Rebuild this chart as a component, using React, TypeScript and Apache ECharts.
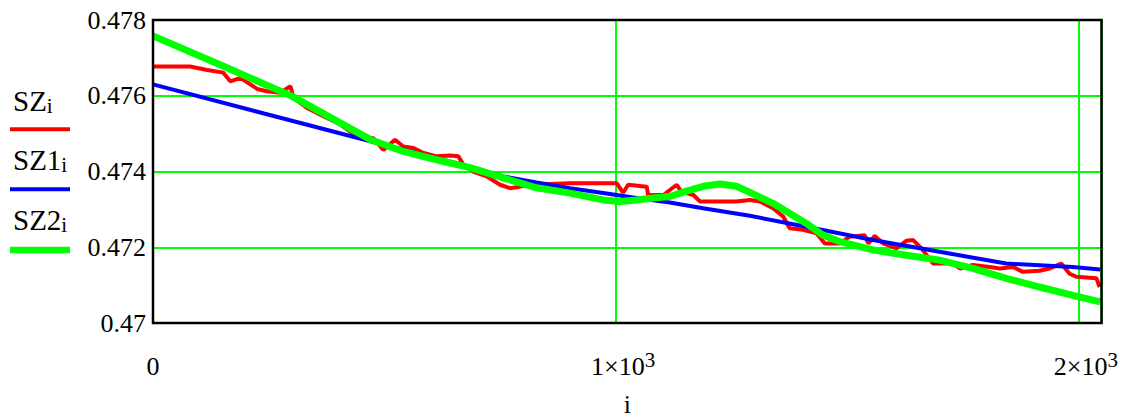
import React, { useEffect, useRef } from "react";
import * as echarts from "echarts";

// SZ (red, noisy measurement)
const szI = [0, 80, 117, 152, 167, 189, 225, 246, 275, 297, 304, 333, 368, 405, 441, 476, 498, 523, 541, 563, 585, 613, 642, 660, 671, 692, 721, 750, 772, 793, 815, 858, 901, 973, 1002, 1016, 1027, 1067, 1070, 1103, 1132, 1142, 1168, 1182, 1261, 1290, 1312, 1340, 1362, 1376, 1405, 1434, 1452, 1484, 1506, 1538, 1546, 1560, 1578, 1607, 1628, 1643, 1661, 1686, 1729, 1744, 1772, 1808, 1830, 1859, 1880, 1916, 1938, 1963, 1981, 1996, 2039, 2046];
const szV = [0.47677, 0.47677, 0.47668, 0.47661, 0.47638, 0.47647, 0.47618, 0.47612, 0.47608, 0.47625, 0.47594, 0.47568, 0.47546, 0.47524, 0.47493, 0.47488, 0.47457, 0.47484, 0.47466, 0.47462, 0.47449, 0.4744, 0.47442, 0.4744, 0.47418, 0.474, 0.47387, 0.47365, 0.47356, 0.4736, 0.47365, 0.47367, 0.47369, 0.47369, 0.47369, 0.47344, 0.47365, 0.4736, 0.47338, 0.47338, 0.47365, 0.47347, 0.47338, 0.47321, 0.47321, 0.47325, 0.47321, 0.47303, 0.47281, 0.4725, 0.47246, 0.47237, 0.4721, 0.4721, 0.47228, 0.47232, 0.4721, 0.4723, 0.4721, 0.47197, 0.47217, 0.47219, 0.47197, 0.47157, 0.47157, 0.47144, 0.47153, 0.47148, 0.47144, 0.47148, 0.47135, 0.47138, 0.47144, 0.47157, 0.4713, 0.47122, 0.47118, 0.47095];

// SZ1 (blue)
const sz1I = [0, 240, 470, 685, 757, 829, 901, 973, 1045, 1117, 1189, 1290, 1412, 1556, 1700, 1844, 1988, 2047];
const sz1V = [0.4763, 0.47553, 0.4748, 0.47413, 0.47387, 0.47371, 0.47356, 0.47343, 0.4733, 0.47318, 0.47303, 0.47283, 0.47254, 0.47219, 0.47188, 0.47157, 0.47148, 0.47141];

// SZ2 (green)
const sz2I = [0, 150, 300, 470, 541, 613, 685, 757, 829, 901, 973, 1009, 1045, 1081, 1117, 1153, 1189, 1225, 1261, 1290, 1340, 1412, 1448, 1484, 1556, 1628, 1700, 1772, 1844, 1916, 1988, 2047];
const sz2V = [0.47758, 0.47679, 0.47599, 0.47484, 0.47453, 0.47431, 0.4741, 0.47383, 0.47357, 0.47343, 0.47325, 0.47321, 0.47325, 0.4733, 0.47334, 0.47348, 0.47361, 0.47367, 0.47361, 0.47345, 0.47316, 0.47263, 0.47232, 0.47215, 0.47193, 0.47179, 0.47166, 0.47144, 0.47118, 0.47095, 0.47073, 0.47056];

const xTickLabels: Record<number, string> = { 0: "{b|0}", 1000: "{bp|1×10}{s|3}", 2000: "{bp|2×10}{s|3}" };

const FONT = "Liberation Serif";

const zip = (xs: number[], ys: number[]) => xs.map((x, k) => [x, ys[k]]);

export default function App() {
  const ref = useRef<HTMLDivElement>(null);
  useEffect(() => {
    if (!ref.current) return;
    const chart = echarts.init(ref.current, undefined, { renderer: "svg" });
    const gridL = 153, gridT = 20, gridR = 24.5, gridB = 96;
    const legendRich = {
      a: { fontSize: 29, fontFamily: FONT, color: "#000", lineHeight: 30 },
      s: { fontSize: 21, fontFamily: FONT, color: "#000", lineHeight: 16, verticalAlign: "bottom" },
    };
    chart.setOption({
      animation: false,
      backgroundColor: "#fff",
      textStyle: { fontFamily: FONT },
      grid: { left: gridL, top: gridT, right: gridR, bottom: gridB, containLabel: false, outerBoundsMode: "none" },
      xAxis: {
        type: "value",
        min: 0,
        max: 2050,
        interval: 1000,
        name: "i",
        nameLocation: "middle",
        nameGap: 71,
        nameTextStyle: { fontFamily: FONT, fontSize: 26, lineHeight: 20, color: "#000" },
        axisLine: { show: false },
        axisTick: { show: false },
        splitLine: { show: true, lineStyle: { color: "#00ff00", width: 2 } },
        axisLabel: {
          margin: 26,
          formatter: (v: number) => xTickLabels[v] ?? "",
          showMinLabel: true,
          showMaxLabel: true,
          rich: {
            b: { fontSize: 26, fontFamily: FONT, color: "#000", lineHeight: 34 },
            bp: { fontSize: 26, fontFamily: FONT, color: "#000", lineHeight: 34, padding: [0, 0, 0, 15] },
            s: { fontSize: 21, fontFamily: FONT, color: "#000", lineHeight: 12, verticalAlign: "top" },
          },
        },
      },
      yAxis: {
        type: "value",
        min: 0.47,
        max: 0.478,
        interval: 0.002,
        axisLine: { show: false },
        axisTick: { show: false },
        splitLine: { show: true, lineStyle: { color: "#00ff00", width: 2 } },
        axisLabel: {
          margin: 7,
          fontSize: 26,
          fontFamily: FONT,
          color: "#000",
          padding: [5, 0, 0, 0],
          formatter: (v: number) => String(parseFloat(v.toFixed(3))),
        },
      },
      series: [
        { name: "SZ", type: "line", data: zip(szI, szV), symbol: "none", lineStyle: { color: "#ff0000", width: 4 }, z: 3 },
        { name: "SZ1", type: "line", data: zip(sz1I, sz1V), symbol: "none", lineStyle: { color: "#0000ff", width: 4 }, z: 4 },
        { name: "SZ2", type: "line", data: zip(sz2I, sz2V), symbol: "none", lineStyle: { color: "#00ff00", width: 7 }, z: 5 },
      ],
      graphic: [
        {
          type: "rect",
          z: 100,
          shape: { x: gridL, y: gridT, width: 1126 - gridL - gridR, height: 419 - gridT - gridB },
          style: { fill: "none", stroke: "#000", lineWidth: 2.5 },
        },
        { type: "text", x: 13, y: 86, style: { text: "{a|SZ}{s|i}", rich: legendRich, verticalAlign: "top" } },
        { type: "line", shape: { x1: 10, y1: 129.3, x2: 70, y2: 129.3 }, style: { stroke: "#ff0000", lineWidth: 4 } },
        { type: "text", x: 13, y: 145, style: { text: "{a|SZ1}{s|i}", rich: legendRich, verticalAlign: "top" } },
        { type: "line", shape: { x1: 10, y1: 189.3, x2: 70, y2: 189.3 }, style: { stroke: "#0000ff", lineWidth: 4 } },
        { type: "text", x: 13, y: 205, style: { text: "{a|SZ2}{s|i}", rich: legendRich, verticalAlign: "top" } },
        { type: "line", shape: { x1: 10, y1: 250, x2: 70, y2: 250 }, style: { stroke: "#00ff00", lineWidth: 6.5 } },
      ],
    });
    return () => chart.dispose();
  }, []);
  return <div ref={ref} style={{ position: "fixed", left: 0, top: 0, width: 1126, height: 419 }} />;
}
